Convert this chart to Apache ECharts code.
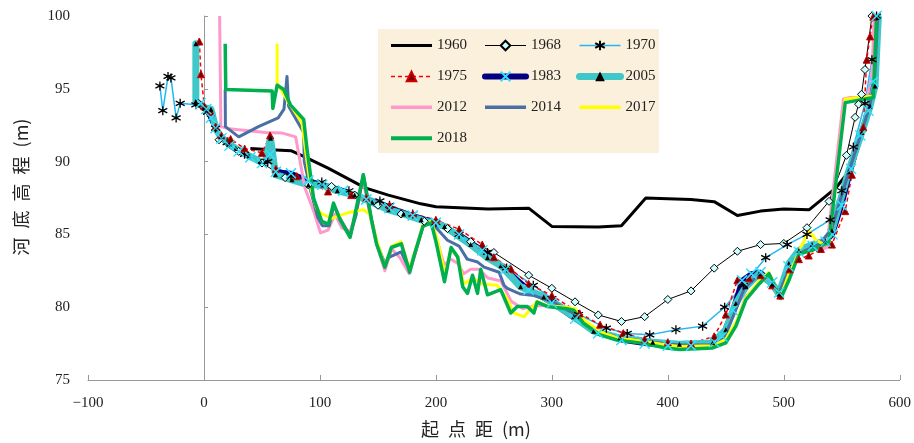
<!DOCTYPE html>
<html>
<head>
<meta charset="utf-8">
<script src="https://cdn.jsdelivr.net/npm/echarts@6/dist/echarts.min.js"></script>
<style>
html, body { margin: 0; padding: 0; background: #fff; }
#chart { width: 914px; height: 443px; }
</style>
</head>
<body>
<div id="chart"></div>
<script>
// 河道横断面 各年份河底高程 (起点距 m, 高程 m)
const years = ['1960', '1968', '1970', '1975', '1983', '2005', '2012', '2014', '2017', '2018']

const d1960 = [[40, 90.9], [62, 90.8], [75, 90.75], [85, 90.4], [107, 89.55], [139, 88.2], [159, 87.7], [187, 87.1], [200, 86.9], [245, 86.75], [280, 86.8], [300, 85.55], [340, 85.5], [360, 85.6], [381, 87.5], [400, 87.45], [420, 87.4], [440, 87.25], [460, 86.3], [480, 86.6], [500, 86.75], [522, 86.7], [545, 88.2], [555, 89.2]]

const d1968 = [[-5, 94.0], [0, 93.7], [13, 91.5], [30, 90.7], [50, 89.9], [70, 88.9], [90, 88.4], [110, 88.3], [130, 87.7], [150, 87.0], [170, 86.4], [190, 85.9], [210, 85.4], [230, 84.5], [250, 83.76], [280, 82.2], [300, 81.3], [320, 80.37], [340, 79.47], [360, 79.02], [380, 79.35], [400, 80.53], [420, 81.12], [440, 82.68], [460, 83.84], [480, 84.3], [500, 84.38], [520, 85.46], [539, 87.27], [554, 90.43], [561.5, 93.04], [564.5, 93.94], [567, 94.62], [570, 96.32], [576, 100]]

const d1970 = [[-38, 95.2], [-35.5, 93.5], [-31, 95.85], [-28.5, 95.75], [-24, 93.0], [-20.5, 94.0], [-7, 93.9], [3, 93.4], [10, 92.3], [20, 91.3], [35, 90.5], [55, 90.0], [75, 89.0], [101.6, 88.6], [125, 88.0], [151.7, 87.3], [160, 87.0], [180, 86.4], [200, 85.8], [220, 85.0], [244.5, 83.76], [261, 82.7], [284, 81.5], [300, 80.6], [323, 79.5], [347, 78.56], [365, 78.2], [384.4, 78.1], [407, 78.45], [430, 78.7], [449, 80.0], [465, 81.5], [484.4, 83.4], [503, 84.3], [520, 85.0], [540, 86.0], [550, 88.0], [560, 91.0], [570, 94.0], [576, 97.0], [580, 100]]

const d1975 = [[-4, 98.25], [-2.6, 96.0], [0.3, 93.8], [6, 93.4], [10, 92.4], [15, 91.8], [23, 91.55], [35, 90.9], [50, 90.6], [57, 91.8], [62, 89.5], [80, 89.0], [107, 87.95], [127, 87.7], [140, 87.5], [160, 87.0], [180, 86.4], [200, 86.0], [220, 85.35], [240, 84.3], [250, 83.43], [265, 82.6], [280, 81.6], [300, 80.8], [324, 79.58], [341.6, 78.8], [361.6, 78.22], [380, 77.8], [400, 77.6], [420, 77.5], [440, 78.0], [450, 79.5], [460, 81.85], [470, 82.0], [480, 82.2], [490, 81.5], [497, 80.8], [505, 82.6], [513, 83.3], [521.5, 83.55], [532, 84.0], [541.5, 84.3], [553, 86.6], [558.7, 89.1], [568.6, 92.35], [571.5, 97.0], [574.4, 98.6], [577.2, 99.95]]

const d1983 = [[-3, 94.0], [2, 93.6], [6, 93.0], [10, 92.3], [15, 91.6], [22, 91.1], [30, 90.7], [40, 90.3], [50, 89.9], [57, 90.5], [62, 89.3], [75, 89.2], [90, 88.7], [102, 88.4], [120, 88.0], [140, 87.4], [160, 86.8], [180, 86.3], [200, 85.8], [220, 85.0], [240, 83.9], [260, 82.6], [280, 81.2], [300, 80.3], [320, 79.2], [340, 78.2], [360, 77.75], [380, 77.5], [400, 77.35], [420, 77.35], [440, 77.6], [447, 78.0], [456, 79.8], [464, 81.85], [472, 82.3], [480, 82.4], [490, 81.7], [496, 81.0], [504, 82.8], [513, 83.8], [525, 84.2], [536, 84.5], [542, 85.0], [550, 87.0], [558, 89.5], [566, 91.8], [573, 93.5], [577, 95.5], [580, 100]]

const d2005 = [[-7, 98.1], [-7, 94.15], [0.3, 93.7], [6, 93.6], [10.3, 92.25], [14.6, 91.7], [21.7, 91.2], [27.4, 90.9], [38.8, 90.4], [48.8, 90.0], [53, 90.0], [57.4, 91.6], [61.7, 89.1], [75.9, 88.75], [90, 88.4], [101.6, 88.4], [115, 88.0], [130, 87.7], [145, 87.2], [158.8, 86.7], [172, 86.4], [187.3, 86.0], [207.4, 85.55], [230, 84.3], [244.5, 83.4], [256, 82.85], [273, 81.4], [293, 80.7], [318.8, 79.35], [336, 78.35], [358.7, 77.9], [387, 77.6], [410, 77.45], [438.7, 77.55], [450, 78.45], [458.7, 80.25], [467.3, 81.4], [478.7, 82.3], [490, 81.6], [495.8, 80.9], [504.4, 83.0], [513, 83.9], [524.4, 84.3], [535.8, 84.55], [541.5, 85.25], [555.8, 89.3], [567.3, 92.0], [574.4, 93.8], [578.7, 95.2], [581.5, 99.9]]

const d2012 = [[13.5, 100], [14.6, 92.4], [21.7, 92.25], [53, 92.0], [67, 91.97], [79, 91.7], [87, 88.2], [95, 86.5], [100.5, 85.1], [107, 85.3], [113, 86.4], [118.8, 85.45], [126, 85.2], [131, 86.3], [137, 88.8], [144, 86.0], [149, 84.3], [156, 82.5], [162, 84.0], [169, 83.4], [177, 82.3], [182, 83.6], [189, 85.6], [196, 85.9], [201, 84.6], [207, 82.9], [213, 83.3], [219, 83.0], [224, 82.3], [230, 82.6], [237, 82.6], [245, 82.0], [256, 81.8], [265, 80.4], [275, 79.9], [285, 80.1], [295, 80.1], [313, 80.0], [320, 79.8], [328, 78.9], [342, 78.1], [356, 77.8], [376, 77.6], [399, 77.3], [410, 77.3], [439, 77.35], [450, 77.7], [459, 78.9], [467, 80.7], [479, 81.7], [487, 82.1], [497, 80.6], [504, 82.0], [513, 83.8], [524, 84.0], [534, 84.0], [537, 84.1], [551.5, 94.3], [557, 94.4], [572, 94.4], [576, 96.0], [578, 100]]

const d2014 = [[18.3, 94.95], [18.5, 92.4], [30, 91.7], [47, 92.4], [64, 93.0], [69, 93.6], [71.6, 95.85], [73, 93.8], [86, 92.0], [86.5, 90.0], [92, 88.0], [98, 86.2], [102, 85.6], [108, 85.6], [112, 87.0], [118, 86.0], [126, 84.9], [131, 86.3], [137.4, 89.1], [144, 86.2], [149, 84.4], [156, 83.0], [159, 83.4], [170, 83.8], [177, 82.6], [182, 83.7], [189, 85.6], [196, 85.8], [202, 85.3], [210, 84.6], [220, 84.2], [227, 83.3], [236, 83.1], [241.6, 82.75], [254.5, 82.4], [258.8, 81.5], [261.6, 81.3], [273, 80.9], [284.5, 80.8], [300, 80.4], [318, 79.6], [336, 78.4], [358, 77.9], [387, 77.6], [410, 77.4], [438, 77.4], [448, 77.8], [457, 79.5], [466, 81.3], [478, 82.2], [488, 82.0], [496, 81.0], [504, 82.5], [513, 83.7], [524, 84.1], [530, 84.3], [541, 85.3], [556, 89.3], [567, 92.0], [574, 93.8], [578, 95.3], [581, 99.9]]

const d2017 = [[63.1, 98.1], [63.1, 95.4], [73, 94.05], [84.5, 92.7], [88, 90.5], [92, 88.2], [97, 86.8], [102, 86.4], [110, 86.1], [124.5, 86.5], [137.4, 86.7], [143, 86.4], [149, 84.6], [156, 82.8], [162, 84.2], [170, 84.5], [177, 82.6], [182, 83.8], [189, 85.7], [196, 85.9], [201, 84.7], [208, 82.2], [213, 84.0], [219, 83.4], [224, 81.6], [232, 82.0], [240, 81.6], [253, 81.5], [262, 80.5], [267, 79.6], [276, 79.35], [287, 80.4], [296, 80.1], [313, 80.0], [320, 79.9], [328, 79.1], [342, 78.3], [356, 77.9], [376, 77.7], [399, 77.4], [410, 77.3], [439, 77.35], [450, 77.8], [459, 79.0], [467, 80.6], [479, 81.8], [487, 82.4], [497, 80.7], [504, 82.2], [513, 83.8], [521.5, 85.25], [528, 84.6], [535, 84.3], [539, 84.4], [553, 94.3], [578, 94.5]]

const d2018 = [[18.3, 98.1], [18.8, 94.95], [58.8, 94.85], [59.4, 93.65], [63.1, 95.25], [68.8, 94.95], [74.5, 93.9], [86, 92.9], [88.8, 90.9], [94.5, 87.5], [101.6, 85.9], [107.4, 85.7], [111.7, 87.15], [117.4, 86.0], [126, 84.8], [130.2, 86.35], [137.4, 89.1], [144.5, 86.0], [148.8, 84.35], [156, 82.75], [161.6, 84.1], [170.2, 84.35], [177.4, 82.4], [181.6, 83.65], [188.8, 85.55], [196, 85.8], [200.2, 84.45], [207.4, 81.75], [213.1, 84.1], [218.8, 83.45], [223.1, 81.4], [227.3, 80.95], [231.6, 82.2], [235.9, 80.95], [238.7, 82.6], [244.5, 80.85], [255.9, 81.2], [264.5, 79.6], [270.2, 80.05], [278.8, 80.05], [284.5, 79.6], [287.3, 80.35], [295.9, 80.05], [313, 79.9], [318.8, 79.8], [327.3, 78.9], [341.6, 78.1], [355.9, 77.75], [375.8, 77.55], [398.7, 77.2], [410, 77.1], [438.7, 77.2], [450, 77.55], [458.7, 78.7], [467.3, 80.5], [478.7, 81.6], [487.3, 82.3], [497.3, 80.6], [504.4, 81.85], [513, 83.65], [524.4, 83.9], [535.8, 84.35], [538.7, 84.35], [553, 94.05], [577.2, 94.4], [580, 100]]

const serif = '"Liberation Serif", "DejaVu Serif", serif'
const cjk = '"Noto Sans CJK SC", sans-serif'
const starPath = 'path://M5 0L5 10M0.7 2.5L9.3 7.5M0.7 7.5L9.3 2.5'
const crossPath = 'path://M0 0L10 10M10 0L0 10'

const chart = echarts.init(document.getElementById('chart'))

function plain(name, data, color, width) {
  return {
    name: name,
    type: 'line',
    data: data,
    symbol: 'none',
    color: color,
    lineStyle: { color: color, width: width, join: 'round' }
  }
}

// legend 图标: 无标记的线隐藏圆点, 线宽按系列
function item(name, width, noMark) {
  const o = { name: name, lineStyle: { width: width } }
  if (noMark) o.itemStyle = { opacity: 0 }
  return o
}

const legendBase = {
  orient: 'vertical',
  top: 38,
  padding: 0,
  itemWidth: 41,
  itemHeight: 12,
  itemGap: 15.9,
  selectedMode: false,
  textStyle: { fontFamily: serif, fontSize: 15, color: '#222' }
}

chart.setOption({
  animation: false,
  backgroundColor: '#fff',
  grid: { left: 88, right: 9, top: 16, bottom: 59 },
  graphic: [
    {
      type: 'rect',
      shape: { x: 378, y: 29, width: 281, height: 124 },
      style: { fill: '#FBF0DB' },
      z: 0
    }
  ],
  legend: [
    Object.assign({ left: 389, data: [item('1960', 3, true), item('1975', 1.5), item('2012', 3.5, true), item('2018', 4, true)] }, legendBase),
    Object.assign({ left: 482, data: [item('1968', 1), item('1983', 6), item('2014', 3.5, true)] }, legendBase),
    Object.assign({ left: 576, data: [item('1970', 1.5), item('2005', 7), item('2017', 3.5, true)] }, legendBase)
  ],
  xAxis: {
    type: 'value',
    min: -100,
    max: 600,
    interval: 100,
    name: '起\u2002点\u2002距\u2002(m)',
    nameLocation: 'middle',
    nameGap: 40,
    nameTextStyle: { fontFamily: cjk, fontSize: 18, color: '#222', padding: [0, 36, 0, 0] },
    axisLine: { lineStyle: { color: '#999', width: 1 } },
    axisTick: { inside: true, length: 5, lineStyle: { color: '#999' } },
    axisLabel: {
      fontFamily: serif, fontSize: 15, color: '#222', margin: 16,
      formatter: v => String(v).replace('-', '\u2212')
    },
    splitLine: { show: false }
  },
  yAxis: {
    type: 'value',
    min: 75,
    max: 100,
    interval: 5,
    name: '河\u2002底\u2002高\u2002程\u2002(m)',
    nameLocation: 'middle',
    nameRotate: 90,
    nameGap: 58,
    nameTextStyle: { fontFamily: cjk, fontSize: 18, color: '#222', padding: [0, 0, 0, 22] },
    axisLine: { show: true, lineStyle: { color: '#999', width: 1 } },
    axisTick: { show: true, inside: true, length: 4, lineStyle: { color: '#999' } },
    axisLabel: { fontFamily: serif, fontSize: 15, color: '#222', margin: 18 },
    splitLine: { show: false }
  },
  series: [
    plain('1960', d1960, '#000', 3),
    {
      name: '1968', type: 'line', data: d1968, color: '#000',
      symbol: 'diamond', symbolSize: 8,
      lineStyle: { color: '#000', width: 1 },
      itemStyle: { color: '#CCFFFF', borderColor: '#000', borderWidth: 1 }
    },
    {
      name: '1970', type: 'line', data: d1970, color: '#22B8F0',
      symbol: starPath, symbolSize: 9,
      lineStyle: { color: '#22B8F0', width: 1.5 },
      itemStyle: { color: '#000', borderColor: '#000', borderWidth: 1.3 }
    },
    {
      name: '1975', type: 'line', data: d1975, color: '#FF0000',
      symbol: 'triangle', symbolSize: 7,
      lineStyle: { color: '#FF0000', width: 1.5, type: [4, 3] },
      itemStyle: { color: '#7A0000', borderColor: '#D00000', borderWidth: 1 }
    },
    {
      name: '1983', type: 'line', data: d1983, color: '#000080',
      symbol: crossPath, symbolSize: 10,
      lineStyle: { color: '#000080', width: 5, cap: 'round', join: 'round' },
      itemStyle: { color: '#2EE0FF', borderColor: '#2EE0FF', borderWidth: 1.2 }
    },
    {
      name: '2005', type: 'line', data: d2005, color: '#40C8C8',
      symbol: 'triangle', symbolSize: 5,
      lineStyle: { color: '#40C8C8', width: 7, cap: 'round', join: 'round' },
      itemStyle: { color: '#000' }
    },
    plain('2012', d2012, '#FF99CC', 3),
    plain('2014', d2014, '#4A6FA5', 3),
    plain('2017', d2017, '#FFFF00', 3),
    plain('2018', d2018, '#00B050', 3.5),
    {
      // 1983 测点标记画在最上层
      name: '1983点', type: 'scatter', data: d1983, z: 5,
      symbol: crossPath, symbolSize: 10,
      itemStyle: { color: '#2EE0FF', borderColor: '#2EE0FF', borderWidth: 1.2 }
    }
  ]
})
</script>
</body>
</html>
